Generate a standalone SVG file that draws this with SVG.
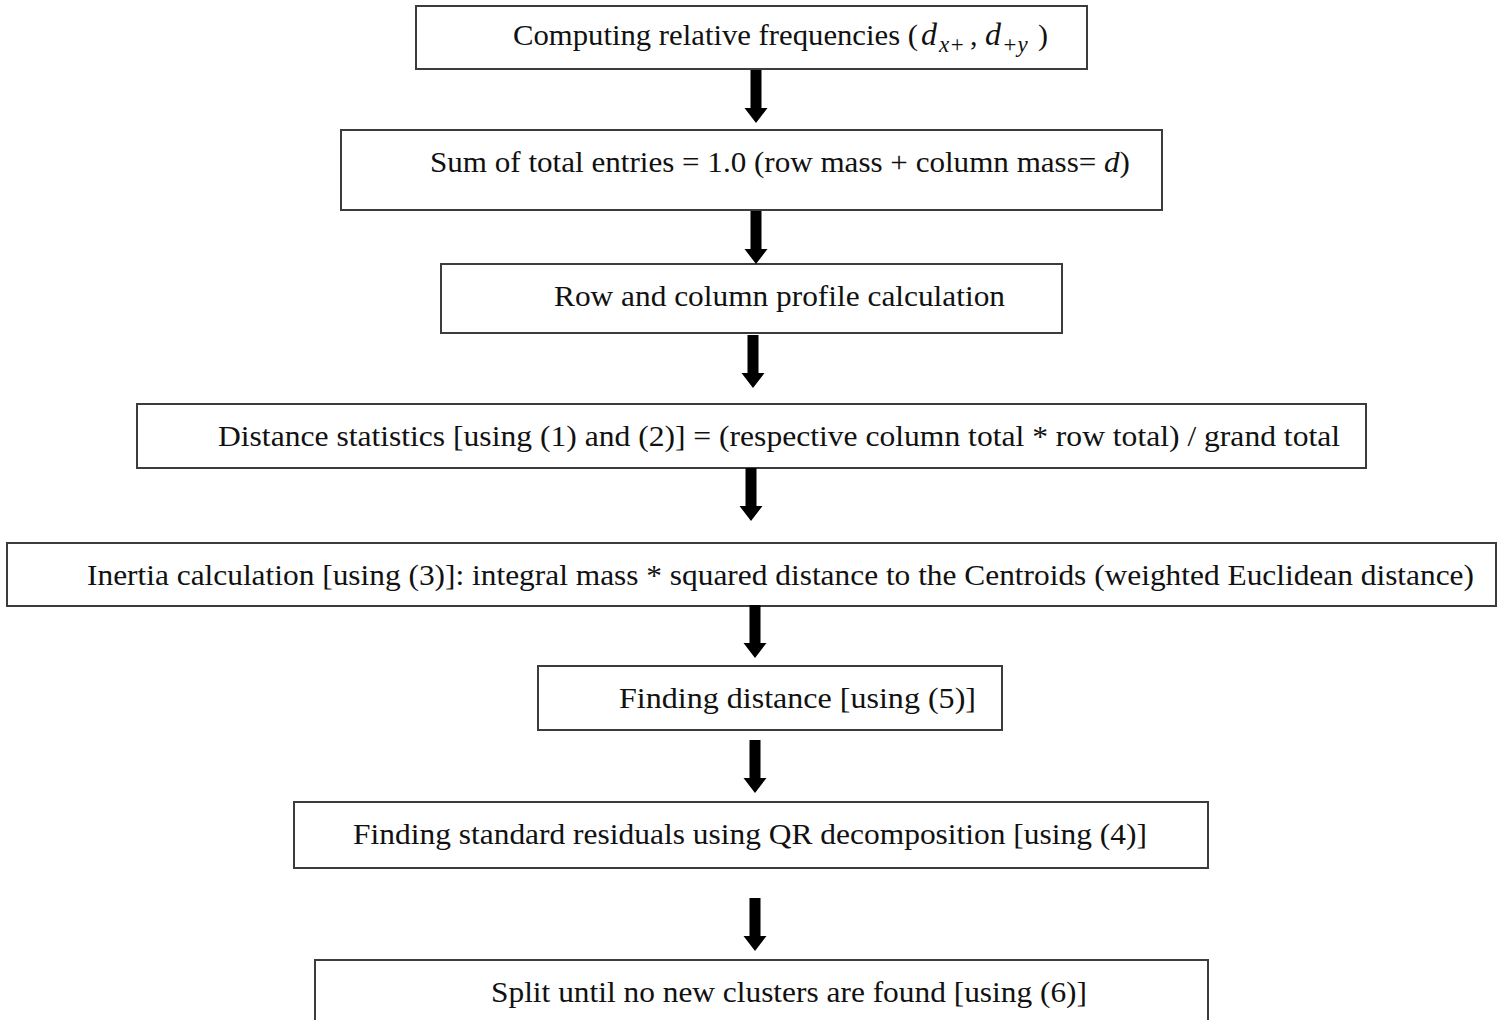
<svg xmlns="http://www.w3.org/2000/svg" width="1500" height="1020" viewBox="0 0 1500 1020">
  <style>
    .box { fill: #ffffff; stroke: #3c3c3c; stroke-width: 2; }
    .lbl { font-family: "Liberation Serif", "Times New Roman", serif; font-size: 30px; fill: #111111; }
    .it { font-style: italic; }
    .math { font-style: italic; font-size: 32px; }
    .sub { font-size: 23px; font-style: italic; }
    .arrow { fill: #000000; }
  </style>
  <defs>
    <!-- block arrow pointing down, tip at origin -->
    <path id="down" d="M -5.5 -53 L 5.5 -53 L 5.5 -15 L 11.5 -15 L 0 0 L -11.5 -15 L -5.5 -15 Z"/>
  </defs>
  <rect width="1500" height="1020" fill="#ffffff"/>

  <g id="step1">
    <rect class="box" x="416" y="6" width="671" height="63"/>
    <text class="lbl" x="513" y="45"><tspan textLength="405" lengthAdjust="spacingAndGlyphs">Computing relative frequencies (</tspan><tspan class="math" x="921">d</tspan><tspan class="sub" x="939" dy="7">x+</tspan><tspan x="970" dy="-7">,</tspan><tspan class="math" x="985">d</tspan><tspan class="sub" x="1002" dy="7">+y</tspan><tspan x="1038" dy="-7">)</tspan></text>
  </g>

  <g id="step2">
    <rect class="box" x="341" y="130" width="821" height="80"/>
    <text class="lbl" x="430" y="172" textLength="700" lengthAdjust="spacingAndGlyphs">Sum of total entries = 1.0 (row mass + column mass= <tspan class="it">d</tspan>)</text>
  </g>

  <g id="step3">
    <rect class="box" x="441" y="264" width="621" height="69"/>
    <text class="lbl" x="554" y="306" textLength="451" lengthAdjust="spacingAndGlyphs">Row and column profile calculation</text>
  </g>

  <g id="step4">
    <rect class="box" x="137" y="404" width="1229" height="64"/>
    <text class="lbl" x="218" y="446" textLength="1122" lengthAdjust="spacingAndGlyphs">Distance statistics [using (1) and (2)] = (respective column total * row total) / grand total</text>
  </g>

  <g id="step5">
    <rect class="box" x="7" y="543" width="1489" height="63"/>
    <text class="lbl" x="87" y="585" textLength="1387" lengthAdjust="spacingAndGlyphs">Inertia calculation [using (3)]: integral mass * squared distance to the Centroids (weighted Euclidean distance)</text>
  </g>

  <g id="step6">
    <rect class="box" x="538" y="666" width="464" height="64"/>
    <text class="lbl" x="619" y="708" textLength="357" lengthAdjust="spacingAndGlyphs">Finding distance [using  (5)]</text>
  </g>

  <g id="step7">
    <rect class="box" x="294" y="802" width="914" height="66"/>
    <text class="lbl" x="353" y="844" textLength="794" lengthAdjust="spacingAndGlyphs">Finding standard residuals using QR decomposition [using (4)]</text>
  </g>

  <g id="step8">
    <rect class="box" x="315" y="960" width="893" height="80"/>
    <text class="lbl" x="491" y="1002" textLength="596" lengthAdjust="spacingAndGlyphs">Split until no new clusters are found [using (6)]</text>
  </g>

  <g id="connectors" class="arrow">
    <use href="#down" x="756" y="123"/>
    <use href="#down" x="756" y="264"/>
    <use href="#down" x="753" y="388"/>
    <use href="#down" x="751" y="521"/>
    <use href="#down" x="755" y="658"/>
    <use href="#down" x="755" y="793"/>
    <use href="#down" x="755" y="951"/>
  </g>
</svg>
